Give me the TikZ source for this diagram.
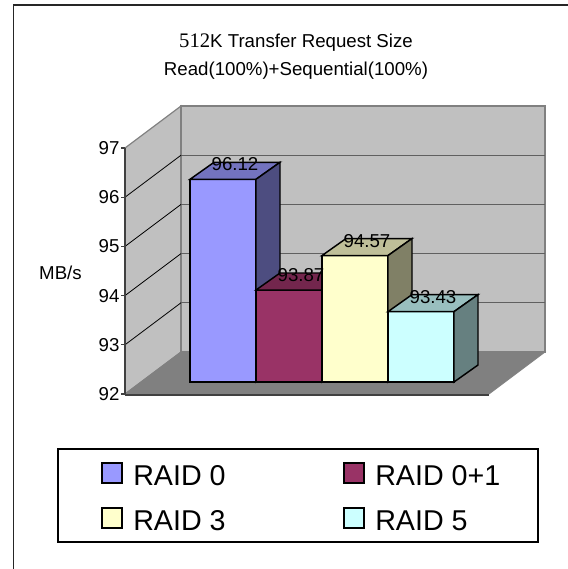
\documentclass[tikz,border=0pt]{standalone}
\usepackage{fontspec}
\setmainfont{Liberation Sans}
\newfontfamily\timesnum{Liberation Serif}
\definecolor{wallc}{HTML}{C0C0C0}
\definecolor{floorc}{HTML}{808080}
\definecolor{edgec}{HTML}{808080}
\definecolor{gridc}{HTML}{606060}
\definecolor{axisc}{HTML}{404040}
\definecolor{rzf}{HTML}{9999FF}\definecolor{rzt}{HTML}{7373BF}\definecolor{rzs}{HTML}{4D4D80}
\definecolor{rof}{HTML}{993366}\definecolor{rot}{HTML}{73264D}\definecolor{ros}{HTML}{4D1A33}
\definecolor{rtf}{HTML}{FFFFCC}\definecolor{rtt}{HTML}{BFBF99}\definecolor{rts}{HTML}{808066}
\definecolor{rff}{HTML}{CCFFFF}\definecolor{rft}{HTML}{99BFBF}\definecolor{rfs}{HTML}{668080}
\tikzset{
  barface/.style={draw=black, line width=1.1pt, line join=miter},
  vlabel/.style={font=\fontsize{14}{16}\selectfont, inner sep=0pt, anchor=base},
  axlabel/.style={font=\fontsize{14}{16}\selectfont, inner sep=1pt, anchor=east},
  legtext/.style={font=\fontsize{21.5}{24}\selectfont, inner sep=0pt, anchor=base west},
  legsq/.style={draw=black, line width=1.1pt},
  titletext/.style={font=\fontsize{14}{16}\selectfont, inner sep=0pt, anchor=base},
}
\newcommand{\drawbar}[7]{%
  \fill[#3] (#1,382) rectangle ({#1+66},#2);
  \draw[barface] (#1,382) rectangle ({#1+66},#2);
  \filldraw[barface, fill=#4] (#1,#2) -- ({#1+24},{#2-17}) -- ({#1+90},{#2-17}) -- ({#1+66},#2) -- cycle;
  \filldraw[barface, fill=#5] ({#1+66},#2) -- ({#1+90},{#2-17}) -- ({#1+90},365) -- ({#1+66},382) -- cycle;
  \coordinate (#6) at ({#1+45},{#2-8.5});
}
\begin{document}
\begin{tikzpicture}[x=0.75pt, y=-0.75pt]
\useasboundingbox (0,0) rectangle (568,569);
% outer frame
\draw[black!85, line width=1.1pt] (13.5,569) -- (13.5,5) -- (568,5);
% title
\node[titletext] (t1) at (296,47) {{\timesnum\fontsize{15.5}{16}\selectfont 512}K Transfer Request Size};
\node[titletext] (t2) at (296,75) {Read(100\%)+Sequential(100\%)};
% walls and floor
\filldraw[fill=wallc, draw=edgec, line width=0.9pt] (125,394) -- (181,352) -- (181,106) -- (125,148) -- cycle;
\filldraw[fill=wallc, draw=edgec, line width=0.9pt] (181,106) rectangle (545,352);
\filldraw[fill=floorc, draw=floorc, line width=0.6pt] (125,394) -- (489,394) -- (545,352) -- (181,352) -- cycle;
\draw[axisc, line width=1.3pt] (125,395) -- (489,395);
\foreach \k in {1,2,3,4} {
  \draw[gridc, line width=1pt] (181,{352-49.2*\k}) -- (545,{352-49.2*\k});
  \draw[black, line width=0.6pt] (125,{394-49.2*\k}) -- (181,{352-49.2*\k});
}
\draw[axisc, line width=1pt] (125,148) -- (125,395);
\foreach \k/\lab in {0/92,1/93,2/94,3/95,4/96,5/97} {
  \draw[axisc, line width=1pt] (121,{394-49.2*\k}) -- (125,{394-49.2*\k});
  \node[axlabel] (ax\lab) at (121,{394-49.2*\k}) {\lab};
}
\node[font=\fontsize{14}{16}\selectfont, inner sep=0pt, anchor=east] (unit) at (82,273) {MB/s};
% bars
\drawbar{190}{179.3}{rzf}{rzt}{rzs}{b1}{}
\drawbar{256}{290.0}{rof}{rot}{ros}{b2}{}
\drawbar{322}{255.56}{rtf}{rtt}{rts}{b3}{}
\drawbar{388}{311.64}{rff}{rft}{rfs}{b4}{}
\node[vlabel] (l1) at (b1) {96.12};
\node[vlabel] (l2) at (b2) {93.87};
\node[vlabel] (l3) at (b3) {94.57};
\node[vlabel] (l4) at (b4) {93.43};
% legend
\draw[black, line width=0.8pt] (58,449) rectangle (538,542);
\filldraw[legsq, fill=rzf] (102,463) rectangle (122,483);
\filldraw[legsq, fill=rof] (344,463) rectangle (364,483);
\filldraw[legsq, fill=rtf] (102,508) rectangle (122,528);
\filldraw[legsq, fill=rff] (344,508) rectangle (364,528);
\node[legtext] (g1) at (133,485) {RAID 0};
\node[legtext] (g2) at (375,485) {RAID 0+1};
\node[legtext] (g3) at (133,530) {RAID 3};
\node[legtext] (g4) at (375,530) {RAID 5};
\end{tikzpicture}
\end{document}
